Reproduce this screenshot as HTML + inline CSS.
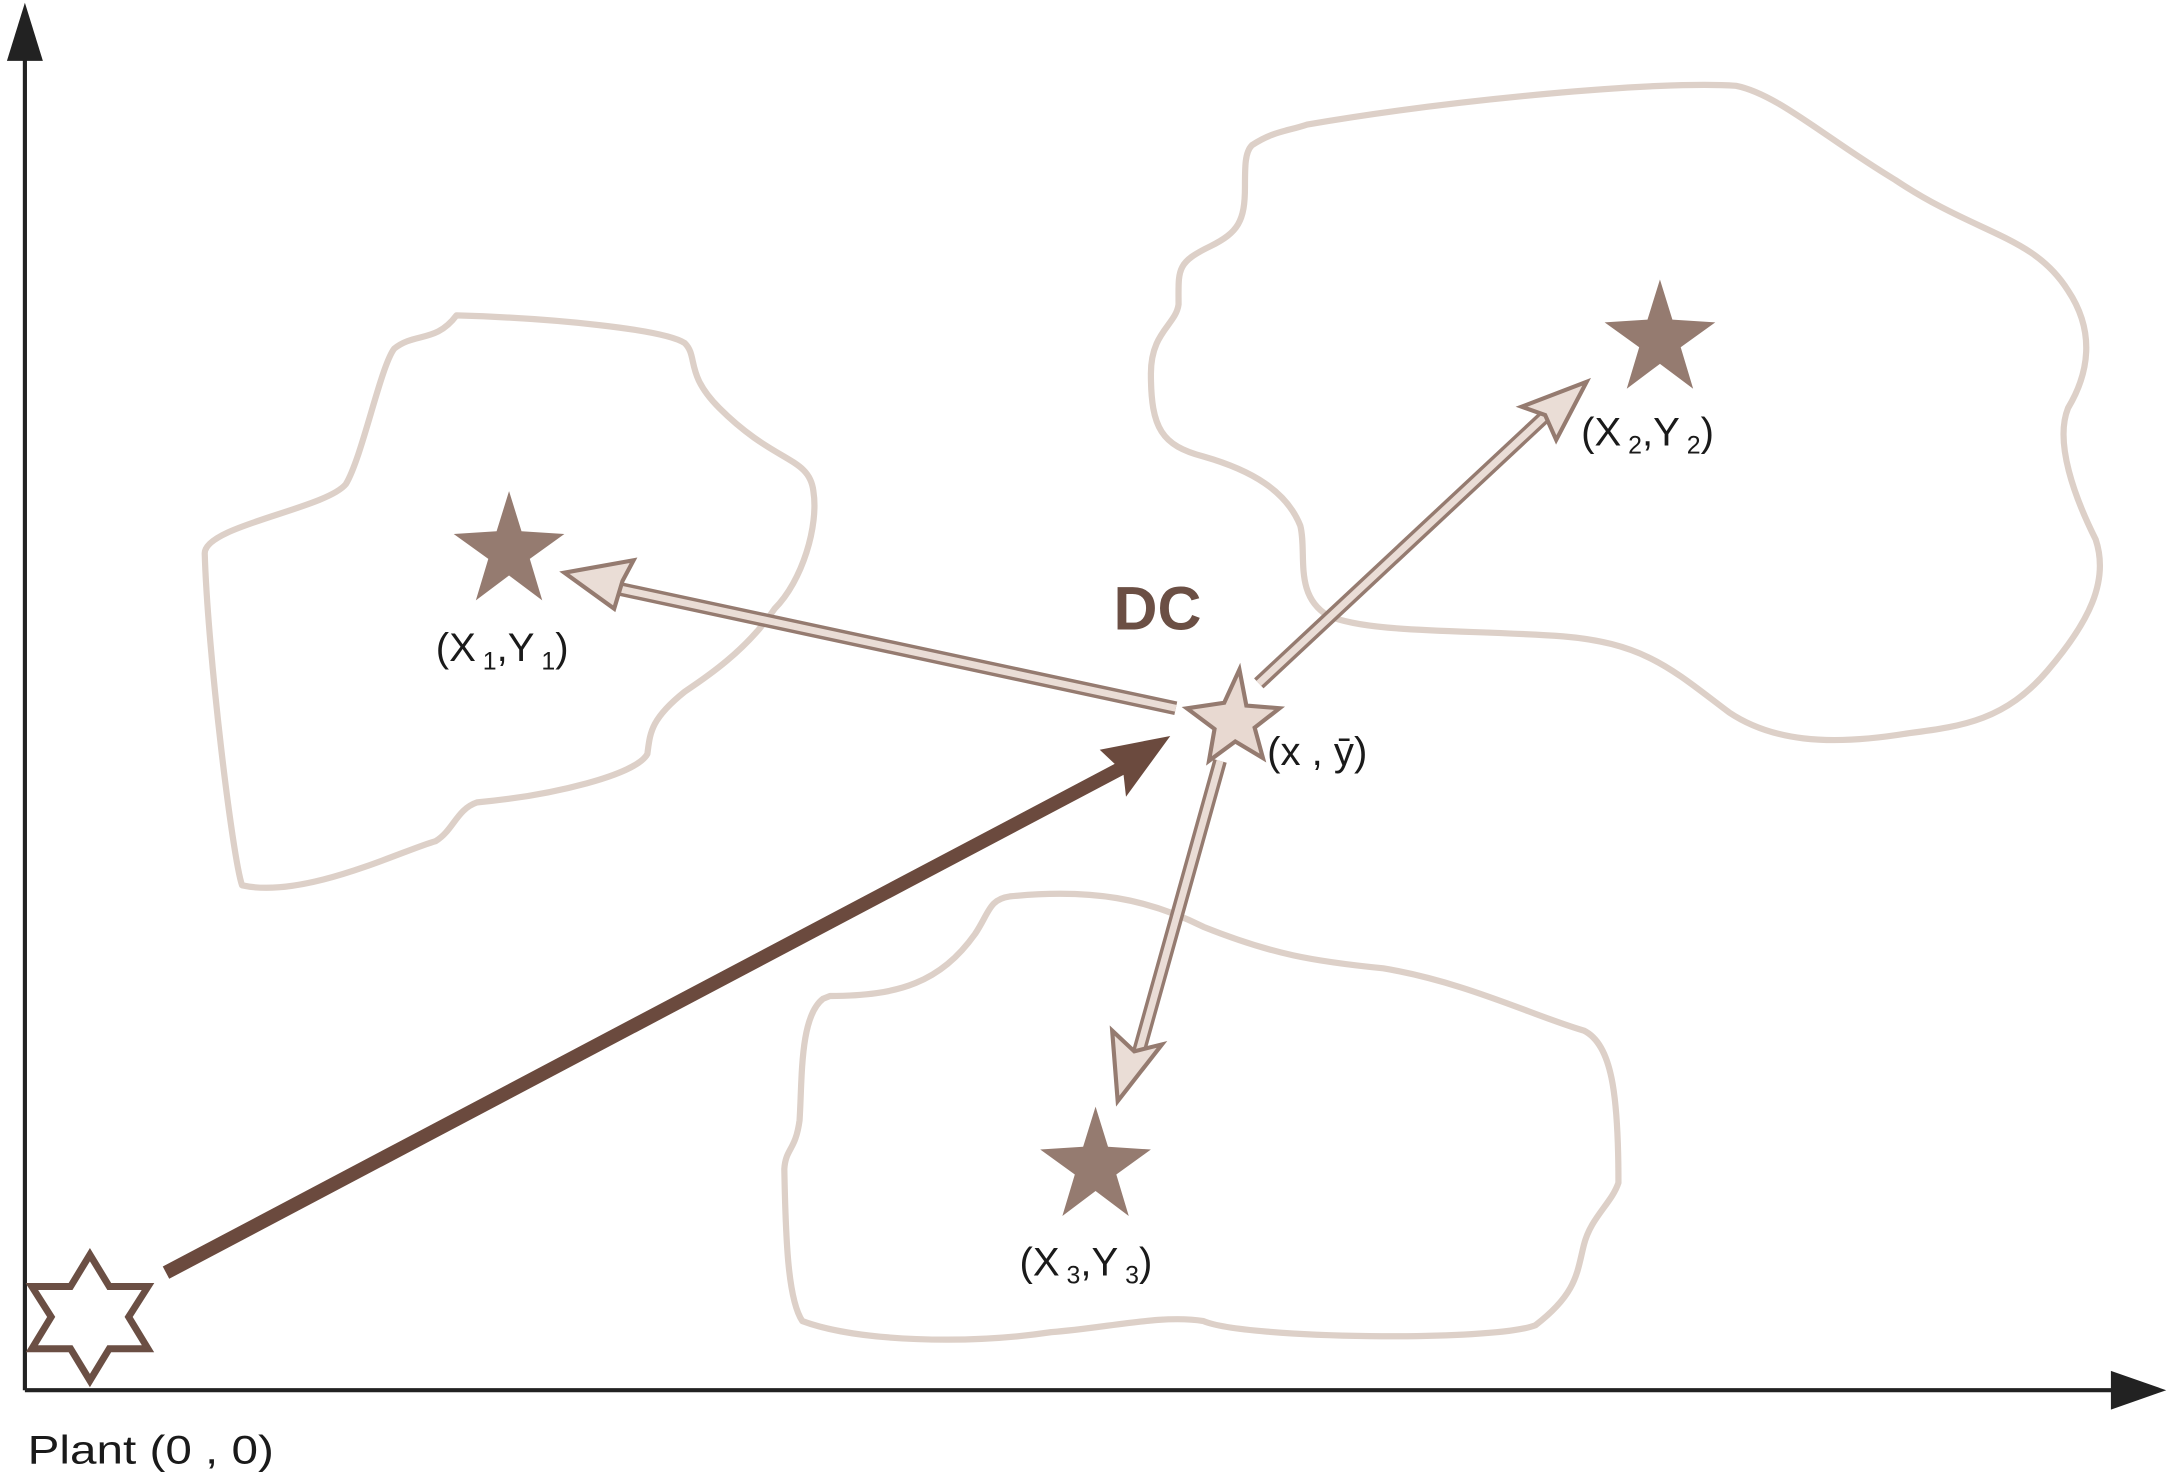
<!DOCTYPE html>
<html><head><meta charset="utf-8"><style>
html,body{margin:0;padding:0;background:#fff;}
svg{display:block;}
text{font-family:"Liberation Sans",sans-serif;fill:#1a1a1a;}
</style></head><body>
<svg width="2169" height="1477" viewBox="0 0 1568 1067.7" xmlns="http://www.w3.org/2000/svg">
<!-- axes -->
<line x1="18" y1="1005" x2="18" y2="30" stroke="#222" stroke-width="3"/>
<polygon points="18,2 5,44 31,44" fill="#222"/>
<line x1="18" y1="1005" x2="1540" y2="1005" stroke="#222" stroke-width="3"/>
<polygon points="1566,1005 1526,991 1526,1019" fill="#222"/>
<text x="20" y="1058" font-size="29" textLength="178" lengthAdjust="spacingAndGlyphs">Plant (0 , 0)</text>
<!-- blobs -->
<g fill="none" stroke="#ddd0c8" stroke-width="4.5" stroke-linejoin="round">
<path d="M330,228 C400,230 480,238 495,248 C505,258 495,270 520,295 C560,335 585,330 588,355 C592,380 580,420 560,440 C540,470 510,490 495,500 C470,520 470,530 468,545 C460,560 400,575 345,580 C330,585 328,600 315,608 C290,615 220,650 175,640 C168,620 150,470 148,400 C148,380 235,368 250,350 C262,330 275,265 285,252 C300,240 315,248 330,228 Z"/>
<path d="M905,105 C920,95 930,95 945,90 C1050,72 1200,58 1255,62 C1285,68 1320,100 1370,130 C1430,170 1470,170 1495,210 C1515,240 1510,270 1495,295 C1485,320 1500,360 1515,390 C1525,420 1510,450 1480,485 C1450,520 1420,525 1380,530 C1320,540 1280,535 1250,515 C1210,485 1190,465 1130,460 C1060,455 990,458 960,445 C935,430 945,400 940,380 C930,355 905,340 870,330 C840,322 832,310 832,270 C832,240 850,235 852,220 C852,195 850,190 875,178 C895,168 900,160 900,135 C900,120 900,110 905,105 Z"/>
<path d="M600,720 C650,720 680,710 705,675 C715,660 715,650 730,648 C790,642 830,650 870,670 C920,690 950,695 1000,700 C1060,710 1110,735 1145,745 C1165,755 1170,790 1170,855 C1165,870 1150,880 1145,900 C1140,920 1140,935 1110,958 C1080,970 900,968 870,955 C840,950 800,960 760,963 C700,972 620,970 580,955 C570,940 568,900 567,845 C568,830 575,832 578,810 C580,780 578,735 595,722 Z"/>
</g>
<!-- filled stars -->
<g fill="#957b70">
<polygon points="368,355 377,384 408,386 383,404 392,434 368,416 344,434 353,404 328,386 359,384"/>
<polygon points="1200,202 1209,231 1240,233 1215,251 1224,281 1200,263 1176,281 1185,251 1160,233 1191,231"/>
<polygon points="792,800 801,829 832,831 807,849 816,879 792,861 768,879 777,849 752,831 783,829"/>
</g>
<!-- hollow arrows -->
<g stroke-linejoin="miter">
<line x1="850" y1="512" x2="440" y2="424" stroke="#957b70" stroke-width="10"/>
<line x1="850" y1="512" x2="440" y2="424" stroke="#eaddd6" stroke-width="5"/>
<polygon points="408,414 458,405 450,420 444,440" fill="#eaddd6" stroke="#957b70" stroke-width="3"/>
<line x1="910" y1="494" x2="1120" y2="298" stroke="#957b70" stroke-width="10"/>
<line x1="910" y1="494" x2="1120" y2="298" stroke="#eaddd6" stroke-width="5"/>
<polygon points="1147,276 1100,294 1117,300 1125,318" fill="#eaddd6" stroke="#957b70" stroke-width="3"/>
<line x1="882" y1="550" x2="822" y2="765" stroke="#957b70" stroke-width="10"/>
<line x1="882" y1="550" x2="822" y2="765" stroke="#eaddd6" stroke-width="5"/>
<polygon points="808,796 804,745 820,760 840,755" fill="#eaddd6" stroke="#957b70" stroke-width="3"/>
</g>
<!-- thick arrow -->
<line x1="120" y1="920" x2="815" y2="553" stroke="#6b4a3e" stroke-width="10"/>
<polygon points="846,532 795,542 812,558 814,576" fill="#6b4a3e"/>
<!-- DC star -->
<polygon points="896,484 901,510 925,512 907,526 913,548 893,536 874,550 878,527 858,512 885,508" fill="#e8d9d1" stroke="#957b70" stroke-width="3"/>
<!-- six-point star -->
<polygon points="65,907 79,930 107,930 93,952 107,975 79,975 65,998 51,975 23,975 37,952 23,930 51,930" fill="#fff" stroke="#6b4f44" stroke-width="5"/>
<!-- labels -->
<text x="805" y="455" font-size="44" font-weight="bold" style="fill:#6b4f44">DC</text>
<text x="315" y="478" font-size="29">(X<tspan font-size="18" dy="6"> 1</tspan><tspan dy="-6">,Y</tspan><tspan font-size="18" dy="6"> 1</tspan><tspan dy="-6">)</tspan></text>
<text x="1143" y="322" font-size="29">(X<tspan font-size="18" dy="6"> 2</tspan><tspan dy="-6">,Y</tspan><tspan font-size="18" dy="6"> 2</tspan><tspan dy="-6">)</tspan></text>
<text x="737" y="922" font-size="29">(X<tspan font-size="18" dy="6"> 3</tspan><tspan dy="-6">,Y</tspan><tspan font-size="18" dy="6"> 3</tspan><tspan dy="-6">)</tspan></text>
<text x="916" y="553" font-size="29">(x , ȳ)</text>
</svg>
</body></html>
